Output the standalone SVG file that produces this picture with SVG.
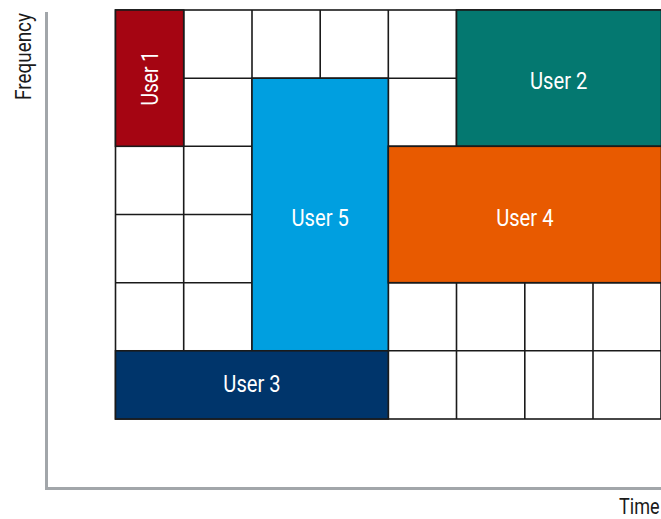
<svg xmlns="http://www.w3.org/2000/svg" width="661" height="519" viewBox="0 0 661 519">
<style>
.cell{fill:#ffffff;stroke:#1a1a1a;stroke-width:1.6}
.blk{stroke:#1a1a1a;stroke-width:1.6}
.lbl{font-family:Roboto,"Liberation Sans",sans-serif;font-size:24px;fill:#ffffff;text-anchor:middle}
.ax{font-family:Roboto,"Liberation Sans",sans-serif;font-size:22px;fill:#1a1a1a}
.axis{fill:none;stroke:#a2a6aa;stroke-width:3}
</style>
<rect width="661" height="519" fill="#ffffff"/>
<g id="axes">
<polyline class="axis" points="46.5,12 46.5,488.5 661,488.5"/>
<text class="ax" transform="translate(31,100) rotate(-90) scale(0.86,1)">Frequency</text>
<text class="ax" transform="translate(619,514) scale(0.82,1)">Time</text>
</g>
<g id="grid">
<rect class="cell" x="115.5" y="10" width="545.5" height="409"/>
<path d="M183.7 10V419M252 10V419M320.2 10V419M388.3 10V419M456.5 10V419M524.8 10V419M593 10V419M115.5 78.2H661M115.5 146.3H661M115.5 214.5H661M115.5 282.7H661M115.5 350.8H661" stroke="#1a1a1a" stroke-width="1.6" fill="none"/>
</g>
<g id="user1">
<rect class="blk" x="115.5" y="10" width="68.2" height="136.3" fill="#a50512"/>
<text class="lbl" transform="translate(158,78.2) rotate(-90) scale(0.8,1)">User 1</text>
</g>
<g id="user2">
<rect class="blk" x="456.5" y="10" width="205" height="136.3" fill="#047870"/>
<text class="lbl" transform="translate(558.7,89) scale(0.84,1)">User 2</text>
</g>
<g id="user5">
<rect class="blk" x="252" y="78.2" width="136.3" height="272.6" fill="#009fe0"/>
<text class="lbl" transform="translate(320.2,225.5) scale(0.84,1)">User 5</text>
</g>
<g id="user4">
<rect class="blk" x="388.3" y="146.3" width="273.2" height="136.4" fill="#e85a00"/>
<text class="lbl" transform="translate(524.8,225.5) scale(0.84,1)">User 4</text>
</g>
<g id="user3">
<rect class="blk" x="115.5" y="350.8" width="272.8" height="68.2" fill="#00356b"/>
<text class="lbl" transform="translate(252,391.5) scale(0.84,1)">User 3</text>
</g>
<g id="connectors"/>
</svg>
